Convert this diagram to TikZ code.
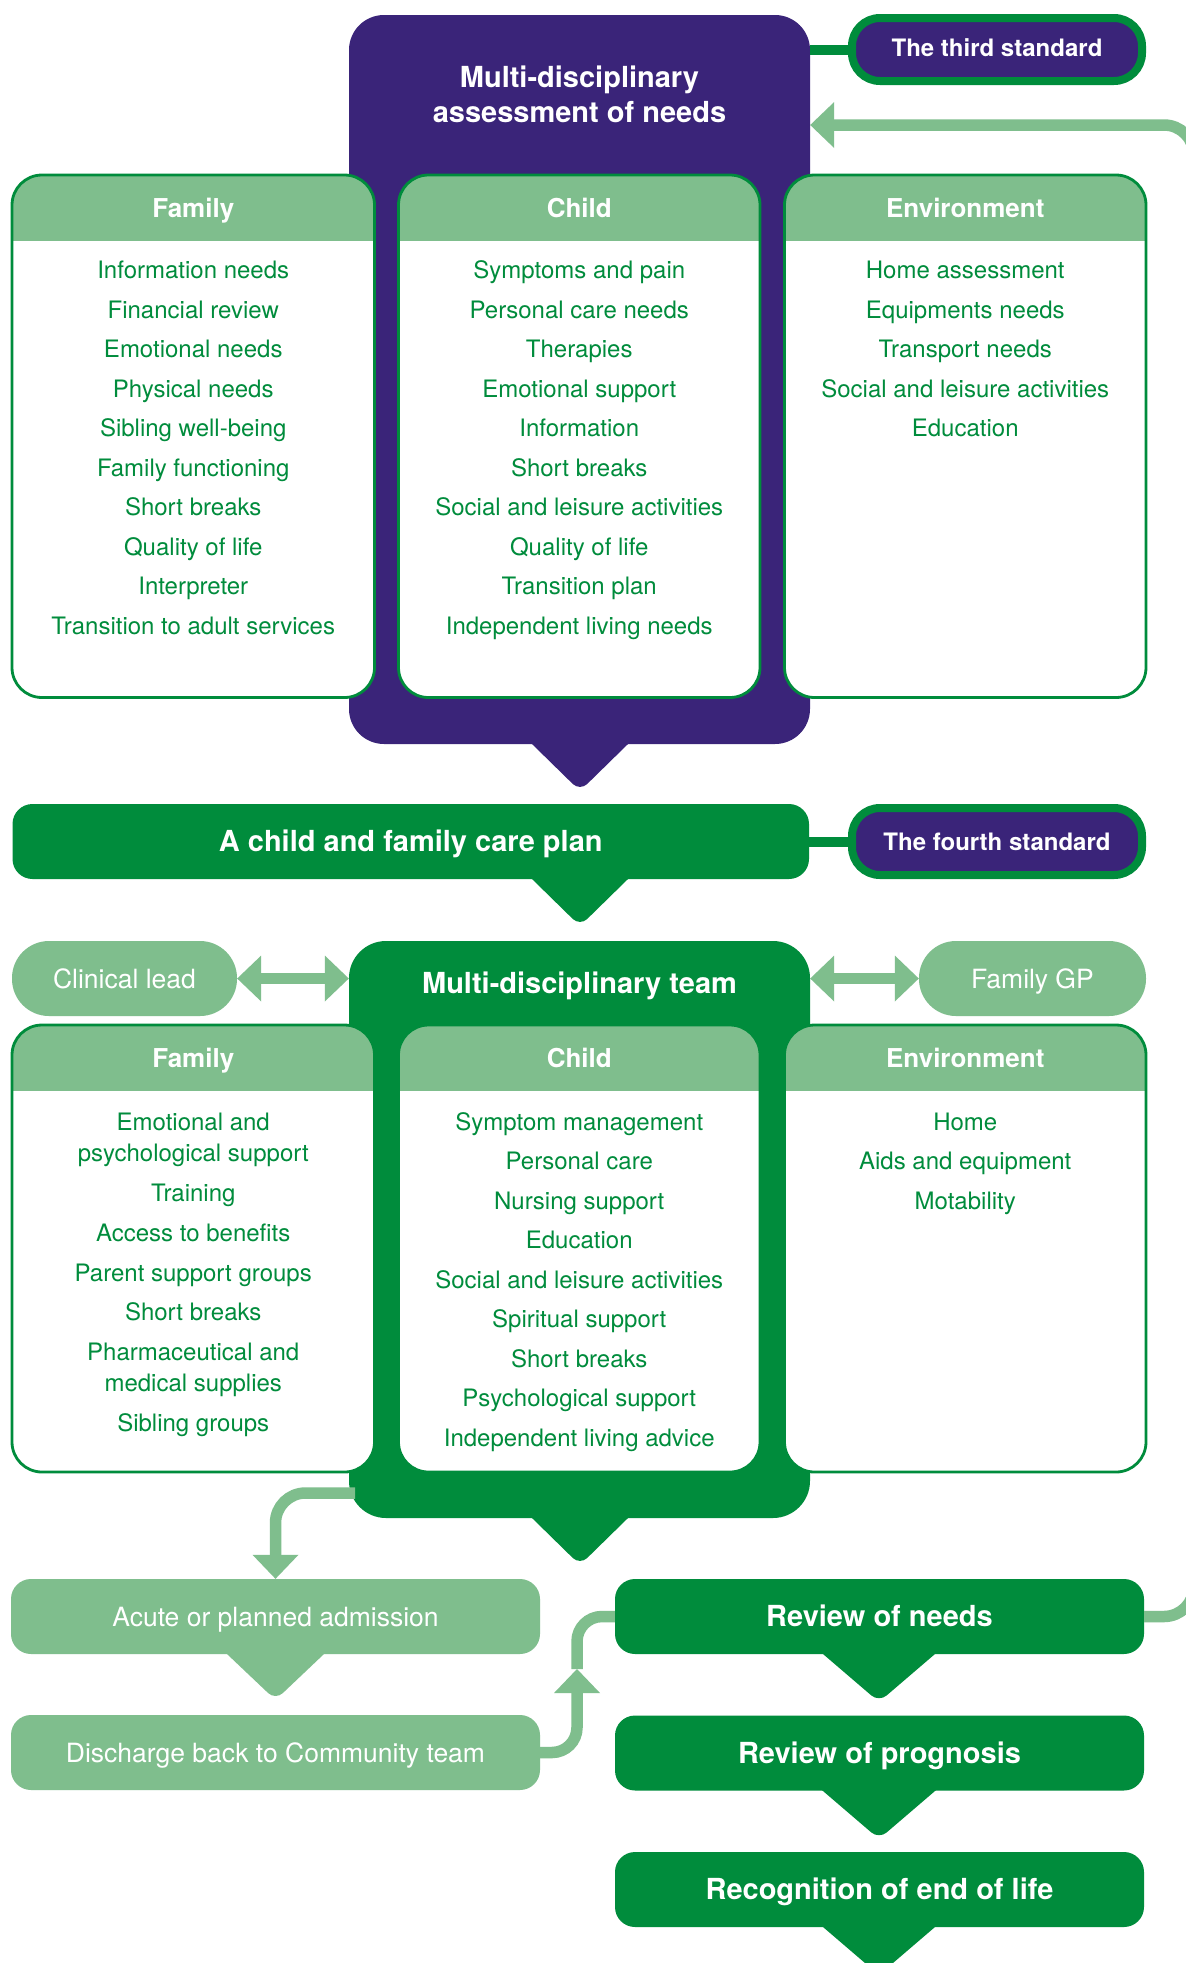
\documentclass[tikz,border=0pt]{standalone}
\usepackage{fontspec}
\setmainfont{TeX Gyre Heros}

\definecolor{mdpurple}{RGB}{58,36,121}
\definecolor{mdgreen}{RGB}{0,140,60}
\definecolor{mdlight}{RGB}{127,190,141}

% card with a light-green heading band and a list of centred lines
\newcommand{\infocard}[7]{%
  \begin{scope}
    \clip[rounded corners=30pt] (#2,#3) rectangle (#4,#5);
    \fill[white] (#2,#3) rectangle (#4,#5);
    \fill[mdlight] (#2,#3) rectangle (#4,#3+66);
  \end{scope}
  \draw[mdgreen, line width=2.8pt, rounded corners=30pt] (#2,#3) rectangle (#4,#5);
  \node[headtext] (#1) at ({(#2+#4)/2},#6) {#7};
}
\newcommand{\cardlines}[3]{%
  \foreach \yy/\txt [count=\i] in {#3}
    \node[itemtext] (#1-\i) at (#2,\yy) {\txt};
}
% downward pointer under a box: colour, centre x, base y, half width, depth
\newcommand{\pointer}[5]{%
  \fill[#1, rounded corners=10pt] (#2-1.3*#4,#3-0.3*#5) -- (#2,#3+#5) -- (#2+1.3*#4,#3-0.3*#5) -- cycle;
}
% arrow heads of the light-green connectors
\newcommand{\tipleft}[1]{\fill[mdlight] (#1) -- ++(24,-23) -- ++(0,46) -- cycle;}
\newcommand{\tipright}[1]{\fill[mdlight] (#1) -- ++(-24,-23) -- ++(0,46) -- cycle;}
\newcommand{\tipdown}[1]{\fill[mdlight] (#1) -- ++(-23,-24) -- ++(46,0) -- cycle;}
\newcommand{\tipup}[1]{\fill[mdlight] (#1) -- ++(-23,24) -- ++(46,0) -- cycle;}

\begin{document}
\begin{tikzpicture}[x=1pt,y=-1pt,
  headtext/.style={anchor=base, inner sep=0pt, text=white, font=\fontsize{26}{30}\selectfont\bfseries},
  itemtext/.style={anchor=base, inner sep=0pt, text=mdgreen, font=\fontsize{24}{28}\selectfont},
  titletext/.style={anchor=base, inner sep=0pt, text=white, font=\fontsize{29}{35}\selectfont\bfseries},
  bigbox/.style={inner sep=0pt, text=white, font=\fontsize{29}{35}\selectfont\bfseries,
                 text height=20.9pt, text depth=0pt},
  softbox/.style={inner sep=0pt, text=white, fill=mdlight, font=\fontsize{26.5}{32}\selectfont,
                  text height=19pt, text depth=0pt},
  standard/.style={inner sep=0pt, text=white, fill=mdpurple, draw=mdgreen, line width=8pt,
                   rounded corners=28pt, minimum width=290pt, font=\fontsize{24}{28}\selectfont\bfseries,
                   text depth=0pt},
  stdlink/.style={draw=mdgreen, line width=10pt},
  flow/.style={draw=mdlight, line width=11.5pt}]

\useasboundingbox (0,0) rectangle (1186,1963);
\clip (0,0) rectangle (1186,1963);
\fill[white] (0,0) rectangle (1186,1963);

% ---------- assessment of needs ----------
\node[fill=mdpurple, rounded corners=35pt, minimum width=461pt, minimum height=729pt, inner sep=0pt]
  (assess) at (579.5,379.5) {};
\pointer{mdpurple}{580}{744}{48}{47}
\node[standard, minimum height=63pt, text height=13pt] (third) at (997,49.5) {The third standard};
\draw[stdlink] (assess.east |- third.west) -- (third.west);
\node[titletext] (assess-t1) at (579.5,87.5) {Multi-disciplinary};
\node[titletext] (assess-t2) at (579.5,122.5) {assessment of needs};

\infocard{famA}{12}{175}{374.5}{697.5}{217.5}{Family}
\cardlines{famA-l}{193.25}{278.5/Information needs, 318/Financial review, 357.5/Emotional needs,
  397/Physical needs, 436.5/Sibling well-being, 476/Family functioning, 515.5/Short breaks,
  555/Quality of life, 594.5/Interpreter, 634/Transition to adult services}
\infocard{chA}{398.5}{175}{760}{697.5}{217.5}{Child}
\cardlines{chA-l}{579.25}{278.5/Symptoms and pain, 318/Personal care needs, 357.5/Therapies,
  397/Emotional support, 436.5/Information, 476/Short breaks, 515.5/Social and leisure activities,
  555/Quality of life, 594.5/Transition plan, 634/Independent living needs}
\infocard{envA}{784.5}{175}{1146}{697.5}{217.5}{Environment}
\cardlines{envA-l}{965.25}{278.5/Home assessment, 318/Equipments needs, 357.5/Transport needs,
  397/Social and leisure activities, 436.5/Education}

% ---------- care plan ----------
\node[bigbox, fill=mdgreen, rounded corners=20pt, minimum width=796.5pt, minimum height=75pt]
  (careplan) at (410.75,841.5) {A child and family care plan};
\pointer{mdgreen}{580}{879}{48}{47}
\node[standard, minimum height=67pt, text height=17.3pt] (fourth) at (997,841.5) {The fourth standard};
\draw[stdlink] (careplan.east) -- (fourth.west);

% ---------- multi-disciplinary team ----------
\node[fill=mdgreen, rounded corners=37pt, minimum width=461pt, minimum height=577pt, inner sep=0pt]
  (mdt) at (579.5,1229.5) {};
\pointer{mdgreen}{580}{1518}{48}{47}
\node[titletext] (mdt-t) at (579.5,993.3) {Multi-disciplinary team};

\node[softbox, rounded corners=37pt, minimum width=225pt, minimum height=75pt] (clinical) at (124.5,978.5) {Clinical lead};
\node[softbox, rounded corners=37pt, minimum width=227pt, minimum height=75pt] (gp) at (1032.5,978.5) {Family GP};
\draw[flow, shorten <=12pt, shorten >=12pt] (clinical.east) -- (clinical.east -| mdt.west);
\tipleft{clinical.east}
\tipright{clinical.east -| mdt.west}
\draw[flow, shorten <=12pt, shorten >=12pt] (mdt.east |- gp.west) -- (gp.west);
\tipleft{mdt.east |- gp.west}
\tipright{gp.west}

\infocard{famB}{12}{1025}{374.5}{1472}{1067.7}{Family}
\cardlines{famB-l}{193.25}{1130/Emotional and, 1161.5/psychological support, 1201.5/Training,
  1241/Access to benefits, 1281/Parent support groups, 1320.5/Short breaks,
  1360/Pharmaceutical and, 1391.5/medical supplies, 1431/Sibling groups}
\infocard{chB}{398.5}{1025}{760}{1472}{1067.7}{Child}
\cardlines{chB-l}{579.25}{1130/Symptom management, 1169.5/Personal care, 1209/Nursing support,
  1248.5/Education, 1288/Social and leisure activities, 1327.5/Spiritual support, 1367/Short breaks,
  1406.5/Psychological support, 1446/Independent living advice}
\infocard{envB}{784.5}{1025}{1146}{1472}{1067.7}{Environment}
\cardlines{envB-l}{965.25}{1130/Home, 1169.5/Aids and equipment, 1209/Motability}

% ---------- admission branch ----------
\node[softbox, rounded corners=20pt, minimum width=529pt, minimum height=75pt] (acute) at (275.5,1616.5) {Acute or planned admission};
\pointer{mdlight}{275.5}{1654}{48.5}{46}
\node[softbox, rounded corners=20pt, minimum width=529pt, minimum height=75pt] (discharge) at (275.5,1752.5) {Discharge back to Community team};

\coordinate (mdtout) at (355,1493);
\draw[flow, rounded corners=30pt, shorten >=12pt] (mdtout) -| (acute.north);
\tipdown{acute.north}

% ---------- reviews ----------
\node[bigbox, fill=mdgreen, rounded corners=20pt, minimum width=529pt, minimum height=75pt] (review) at (879.5,1616.5) {Review of needs};
\pointer{mdgreen}{879}{1654}{56}{48}
\node[bigbox, fill=mdgreen, rounded corners=20pt, minimum width=529pt, minimum height=75pt] (prognosis) at (879.5,1753) {Review of prognosis};
\pointer{mdgreen}{879}{1791}{56}{48}
\node[bigbox, fill=mdgreen, rounded corners=20pt, minimum width=529pt, minimum height=75pt] (endlife) at (879.5,1889.5) {Recognition of end of life};
\pointer{mdgreen}{879}{1927}{56}{48}

\coordinate (rejoin) at (577,1669);
\draw[flow, rounded corners=25pt, shorten >=12pt] (discharge.east) -| (rejoin);
\tipup{rejoin}
\draw[flow, rounded corners=25pt] (rejoin) |- (review.west);

% ---------- loop back to the assessment ----------
\coordinate (loopin) at (assess.east |- 0,125);
\draw[flow, rounded corners=30pt, shorten >=12pt]
  (review.east) -- (review.east -| 1194,0) -- (loopin -| 1194,0) -- (loopin);
\tipleft{loopin}

\end{tikzpicture}
\end{document}
